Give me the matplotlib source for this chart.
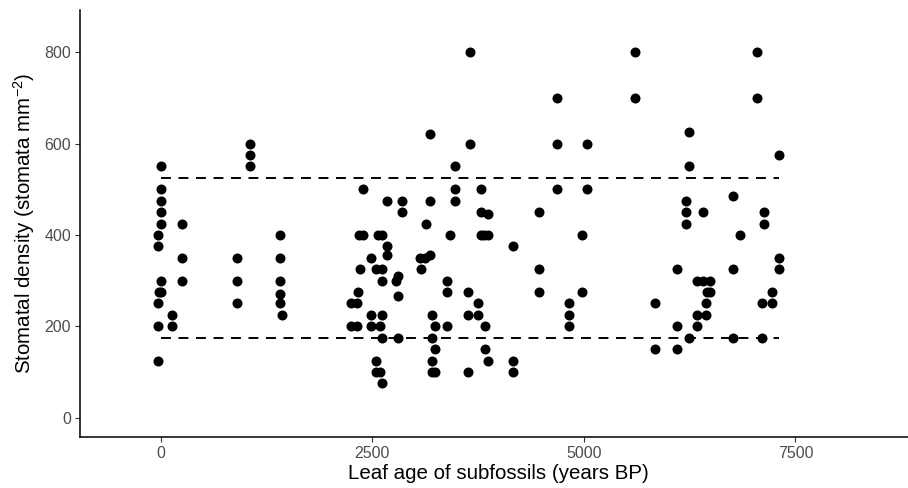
import numpy as np
import matplotlib.pyplot as plt

plt.rcParams['font.family'] = ['Liberation Sans', 'DejaVu Sans']
plt.rcParams['mathtext.default'] = 'regular'

# leaf age (years BP) and stomatal density (stomata mm-2)
age = [0, 0, 0, 0, 0, -30, -30, 0, -15, 5, -30, -30, -30,
       130, 130,
       250, 250, 250,
       905, 905, 905,
       1060, 1060, 1060,
       1405, 1405, 1405, 1405, 1405, 1430,
       2390, 2680, 2855, 2855, 3180, 3180, 3130,
       2345, 2390, 2570, 2610, 2680, 2680, 2480,
       3065, 3125, 3180,
       2355, 2540, 2610, 3070, 2610, 2800, 2780, 2800, 2330,
       2250, 2325, 2480, 2620, 3200,
       2250, 2325, 2480, 2590, 3240,
       2620, 2800, 3210, 3245, 2545, 3210,
       2545, 2590, 3210, 3240, 2620,
       3480, 3480, 3480, 3415, 3380, 3380, 3380,
       3660, 3660, 3780, 3780, 3870, 3780, 3825, 3870, 4160,
       3635, 3750, 3635, 3750, 3830, 3830, 3870, 4160, 4160, 3635,
       4685, 4685, 4685, 5040, 5040, 4470, 4470, 4470,
       4975, 4975, 4825, 4825, 4825,
       5610, 5610, 7050, 7050, 6240, 6240, 7300, 6760,
       6210, 6210, 6210, 6405, 7130, 7130, 6840,
       7300, 7300, 6105, 6760,
       6335, 6410, 6490, 6450, 6490, 7220,
       5845, 6445, 7100, 7220, 6335, 6445,
       6105, 6340, 6240, 6760, 7100, 5845, 6105]
density = [550, 500, 475, 450, 425, 400, 375, 300, 275, 275, 250, 200, 125,
           225, 200,
           425, 350, 300,
           350, 300, 250,
           600, 575, 550,
           400, 350, 300, 270, 250, 225,
           500, 475, 475, 450, 622, 475, 425,
           400, 400, 400, 400, 375, 355, 350,
           350, 350, 355,
           325, 325, 325, 325, 300, 310, 300, 267, 275,
           250, 250, 225, 225, 225,
           200, 200, 200, 200, 200,
           175, 175, 175, 150, 125, 125,
           100, 100, 100, 100, 75,
           550, 500, 475, 400, 300, 275, 200,
           800, 600, 500, 450, 445, 400, 400, 400, 375,
           275, 250, 225, 225, 200, 150, 125, 125, 100, 100,
           700, 600, 500, 600, 500, 450, 325, 275,
           400, 275, 250, 225, 200,
           800, 700, 800, 700, 625, 550, 575, 485,
           475, 450, 425, 450, 450, 425, 400,
           350, 325, 325, 325,
           300, 300, 300, 275, 275, 275,
           250, 250, 250, 250, 225, 225,
           200, 200, 175, 175, 175, 150, 150]

# dashed reference lines
ref_levels = [525, 175]
ref_start = 0
ref_end = 7300

fig = plt.figure(figsize=(9.08, 4.88), dpi=100)
# the panel runs a little past the right edge of the picture
ax = fig.add_axes([0.0881, 0.1045, 0.9207, 0.875])

for lev in ref_levels:
    ax.plot([ref_start, ref_end], [lev, lev], color='black', linewidth=1.4,
            dashes=(5.1, 3.9), zorder=1)

ax.scatter(age, density, s=52, color='black', linewidths=0, zorder=2)

ax.set_xlim(-953, 8924)
ax.set_ylim(-42.5, 892.5)
ax.set_xticks([0, 2500, 5000, 7500])
ax.set_yticks([0, 200, 400, 600, 800])

for side in ['top', 'right']:
    ax.spines[side].set_visible(False)
for side in ['left', 'bottom']:
    ax.spines[side].set_linewidth(1.1)
ax.tick_params(axis='both', length=3.5, width=0.8, color='#333333',
               labelcolor='#4d4d4d', labelsize=11.5, pad=3)

ax.set_xlabel('Leaf age of subfossils (years BP)', fontsize=14.8, labelpad=2)
ax.set_ylabel('Stomatal density (stomata mm$^{-2}$)', fontsize=14.8, labelpad=5)

fig.savefig('out.png', dpi=100)
